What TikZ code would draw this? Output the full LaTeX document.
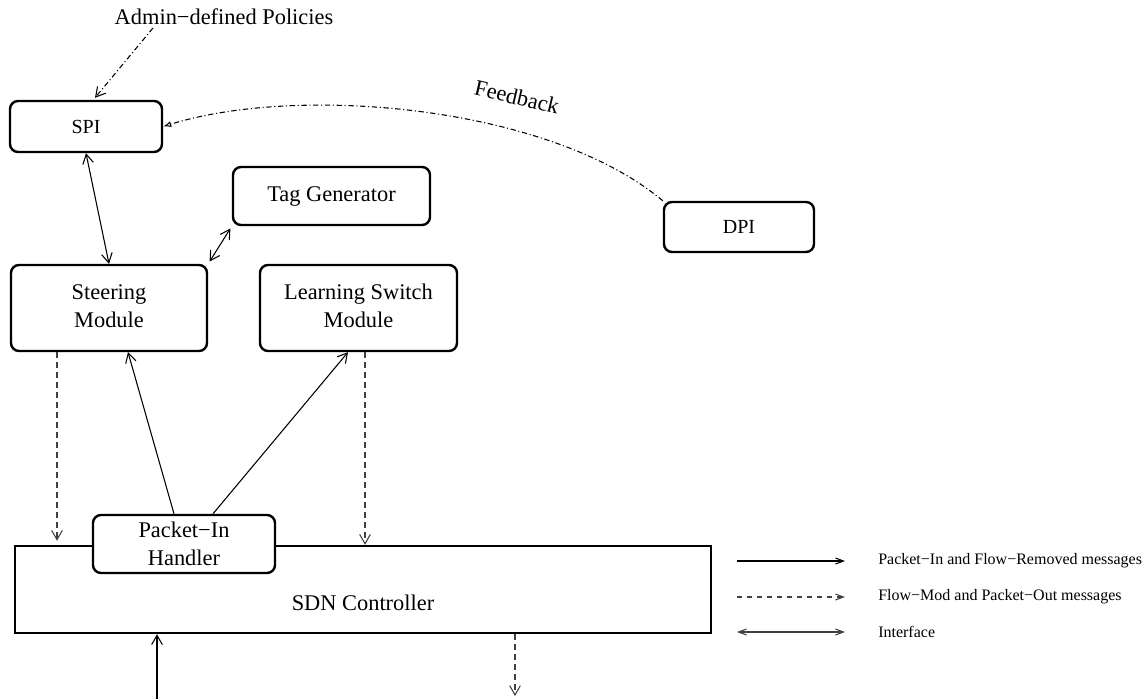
\documentclass[tikz,border=0pt]{standalone}
\usepackage{fontspec}
\setmainfont{Liberation Serif}
\usetikzlibrary{arrows.meta,calc}
\newcommand{\twoline}[2]{\raisebox{3pt}{\begin{tabular}{@{}c@{}}#1\\#2\end{tabular}}}
\begin{document}
\begin{tikzpicture}[x=0.75pt,y=-0.75pt,
  box/.style={draw,line width=1.8pt,rounded corners=6pt,align=center,inner sep=0pt,fill=white,
    font=\fontsize{16.8}{21}\selectfont},
  smallbox/.style={box,font=\fontsize{15}{18}\selectfont},
  plainbox/.style={draw,line width=1.8pt,inner sep=0pt},
  lbl/.style={font=\fontsize{16.8}{21}\selectfont,inner sep=0pt},
  legtext/.style={font=\fontsize{12}{14}\selectfont,anchor=west,inner sep=0pt},
  barb/.tip={Straight Barb[length=7pt,width=8pt,line width=0.8pt]},
  lbarb/.tip={Straight Barb[length=6pt,width=4.5pt,line width=0.8pt]},
  conn/.style={line width=0.8pt,-barb},
  both/.style={line width=0.8pt,barb-barb},
  dsh/.style={line width=0.8pt,black!75,dash pattern=on 4.5pt off 3pt,-barb},
  dashdot/.style={line width=0.8pt,dash pattern=on 4pt off 2pt on 0.8pt off 2pt}
]
\useasboundingbox (0,0) rectangle (1148,699);

% nodes
\node[smallbox,minimum width=114pt,minimum height=38.25pt] (spi) at (86,126.5) {SPI};
\node[box,minimum width=147.75pt,minimum height=43.5pt] (tag) at (331.5,196) {Tag Generator};
\node[smallbox,minimum width=112.5pt,minimum height=37.5pt] (dpi) at (739,227) {DPI};
\node[box,minimum width=147pt,minimum height=64.5pt] (steer) at (109,308) {\twoline{Steering}{Module}};
\node[box,minimum width=147.75pt,minimum height=64.5pt] (learn) at (358.5,308) {\twoline{Learning Switch}{Module}};
\node[plainbox,minimum width=522pt,minimum height=65.25pt] (sdn) at (363,589.5) {};
\node[lbl] (sdntext) at (363,603) {SDN Controller};
\node[box,minimum width=136.5pt,minimum height=43.5pt] (pih) at (184,544) {Packet−In\\Handler};
\node[lbl] (admin) at (224,17) {Admin−defined Policies};

% admin policies
\coordinate (adm1) at (153,28);
\draw[dashdot,-barb] (adm1) -- ($(spi.north)+(9,-2)$);

% feedback
\draw[dashdot,-{Latex[open,length=6pt,width=4.5pt,line width=0.8pt]}]
  (dpi.north west) .. controls (550,106) and (300,84) .. (spi.east);
\node[lbl,rotate=-13] (fb) at (517,97) {Feedback};

% interfaces
\draw[both] (spi.south) -- (steer.north);
\draw[both,shorten <=2pt,shorten >=2pt] (tag.south west) -- (steer.north east);

% packet-in
\draw[conn] ($(pih.north)+(-10,0)$) -- ($(steer.south)+(19,0)$);
\draw[conn] ($(pih.north)+(29,0)$) -- ($(learn.south)+(-10.5,0)$);

% flow-mod
\coordinate (s1) at ($(steer.south)+(-52,0)$);
\draw[dsh,shorten >=3pt] (s1) -- (s1 |- sdn.north);
\coordinate (l1) at ($(learn.south)+(6.5,0)$);
\draw[dsh] (l1) -- (l1 |- sdn.north);

% controller in/out
\coordinate (in1) at (157,699);
\draw[conn] (in1) -- (in1 |- sdn.south);
\coordinate (out1) at (515,696);
\draw[dsh] (out1 |- sdn.south) -- (out1);

% legend
\coordinate (la1) at (737,561); \coordinate (lb1) at (845,561);
\coordinate (la2) at (737,597); \coordinate (lb2) at (845,597);
\coordinate (la3) at (737,632); \coordinate (lb3) at (845,632);
\draw[line width=0.8pt,-lbarb] (la1) -- (lb1);
\draw[line width=0.8pt,black!75,dash pattern=on 4pt off 3.5pt,-lbarb] (la2) -- (lb2);
\draw[line width=0.8pt,black!75,lbarb-lbarb] (la3) -- (lb3);
\node[legtext] (t1) at (878,561) {Packet−In and Flow−Removed messages};
\node[legtext] (t2) at (878,597) {Flow−Mod and Packet−Out messages};
\node[legtext] (t3) at (878,632) {Interface};
\end{tikzpicture}
\end{document}
